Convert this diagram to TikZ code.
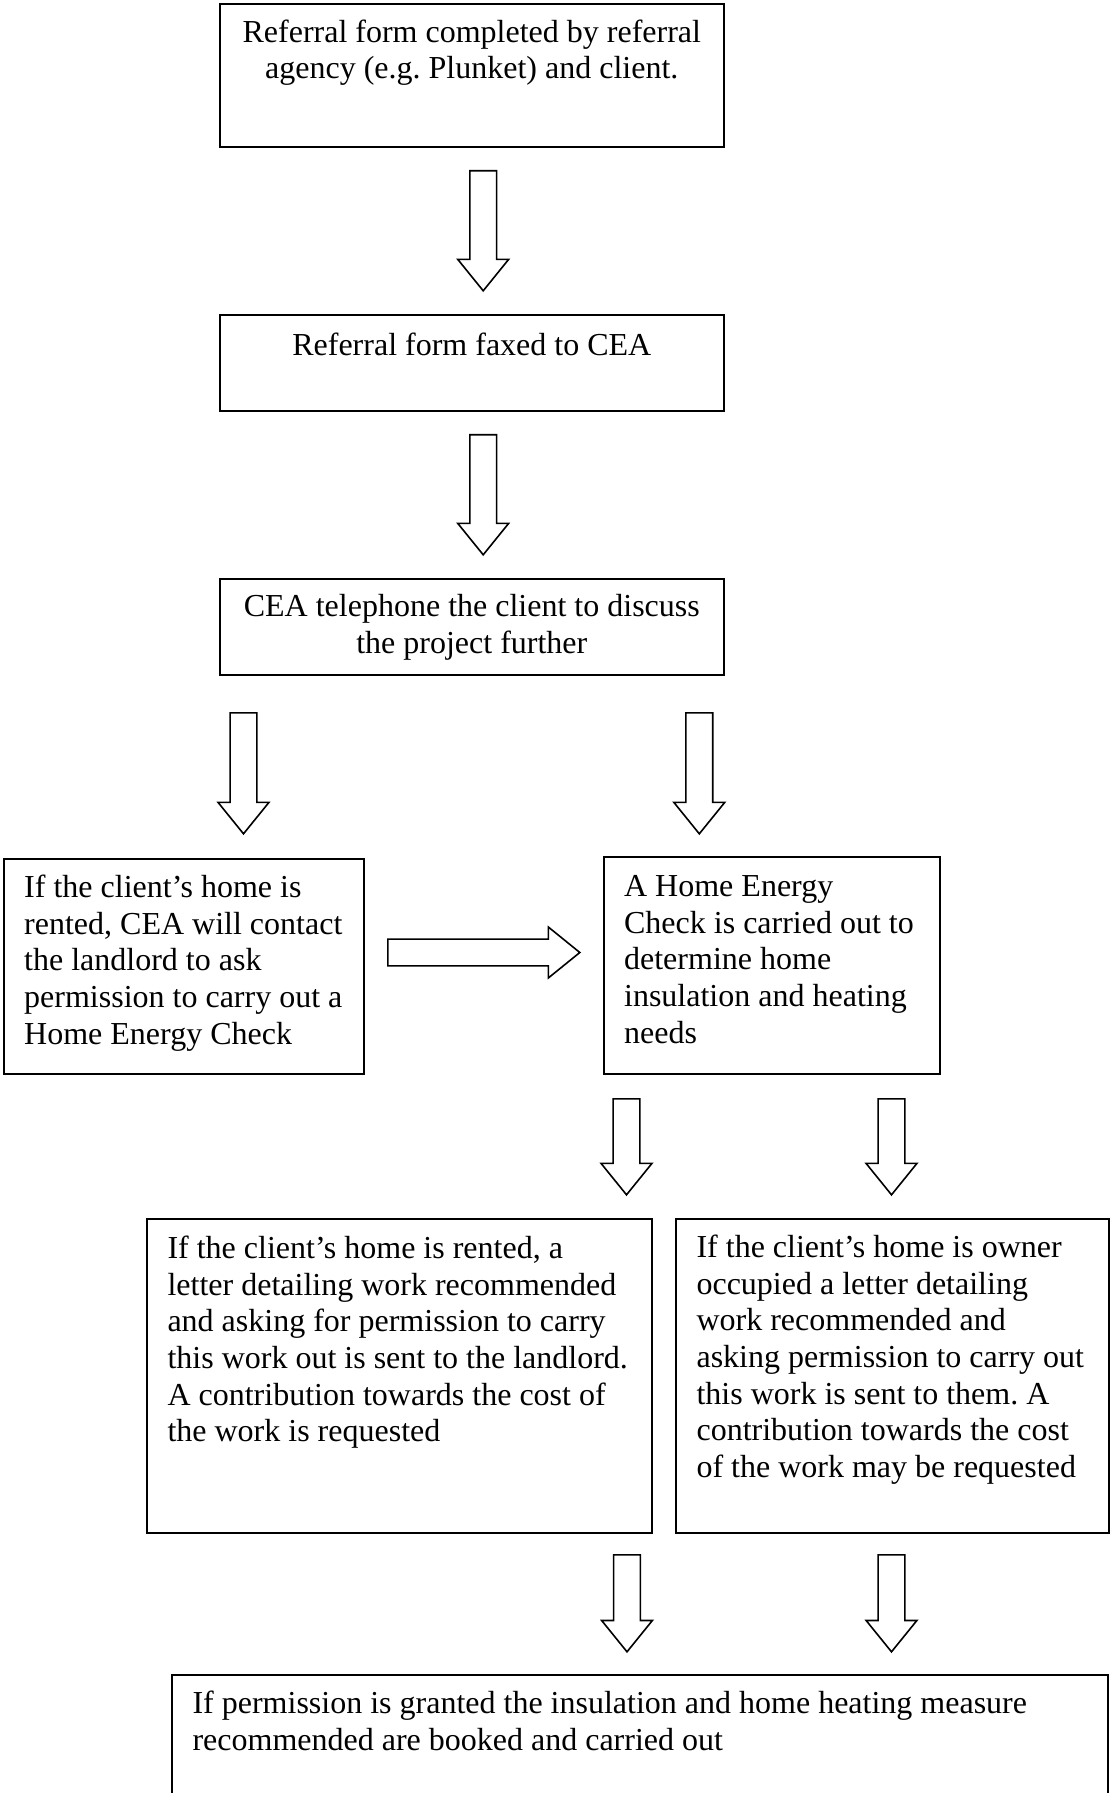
\documentclass[tikz,border=0pt]{standalone}
\usepackage{fontspec}
\setmainfont{Liberation Serif}
\usepackage{tikz}
\usetikzlibrary{calc}
\usetikzlibrary{shapes.arrows}
\newcommand\pxu{0.375pt}

\begin{document}
\frenchspacing
\begin{tikzpicture}[x=\pxu, y=-\pxu,
  box/.style 2 args={draw, line width=0.75pt, inner sep=0pt, anchor=north west, minimum width=#1*\pxu, minimum height=#2*\pxu},
  txt/.style={inner sep=0pt, align=left, anchor=north west, font=\fontsize{12}{13.75}\selectfont},
  ctxt/.style={txt, align=center, anchor=north},
  blk/.style={single arrow, draw, line width=0.6pt, inner sep=0pt, inner ysep=12.6*\pxu, single arrow head extend=12*\pxu, single arrow tip angle=78, anchor=tail, minimum height=#1*\pxu},
  down/.style={blk=#1, rotate=-90}]
  \useasboundingbox (0,0) rectangle (1109,1793);

  \node[box={504.4}{143}] (refer) at (218.6,2.7) {};
  \node[box={504.4}{96}] (fax) at (218.6,314) {};
  \node[box={504.4}{96}] (phone) at (218.6,578) {};
  \node[box={360.3}{215}] (rented) at (2.7,858) {};
  \node[box={336.4}{217}] (check) at (602.6,856) {};
  \node[box={505}{314}] (letterL) at (146,1218) {};
  \node[box={433}{314}] (letterO) at (675,1218) {};
  \node[box={936}{150}] (measure) at (171,1674) {};

  % first line baseline sits 39px under the box top (\strut is 25.7px high)
  \node[ctxt] (refer-t) at ([shift={(0,13.3)}]refer.north) {\strut Referral form completed by referral\\agency (e.g. Plunket) and client.};
  \node[ctxt] (fax-t) at ([shift={(0,15.3)}]fax.north) {\strut Referral form faxed to CEA};
  \node[ctxt] (phone-t) at ([shift={(0,12.3)}]phone.north) {\strut CEA telephone the client to discuss\\the project further};
  \node[txt] (rented-t) at ([shift={(21,13.3)}]rented.north west) {\strut If the client’s home is\\rented, CEA will contact\\the landlord to ask\\permission to carry out a\\Home Energy Check};
  \node[txt] (check-t) at ([shift={(21,14.3)}]check.north west) {\strut A Home Energy\\Check is carried out to\\determine home\\insulation and heating\\needs};
  \node[txt] (letterL-t) at ([shift={(21,14.3)}]letterL.north west) {\strut If the client’s home is rented, a\\letter detailing work recommended\\and asking for permission to carry\\this work out is sent to the landlord.\\A contribution towards the cost of\\the work is requested};
  \node[txt] (letterO-t) at ([shift={(21,13.3)}]letterO.north west) {\strut If the client’s home is owner\\occupied a letter detailing\\work recommended and\\asking permission to carry out\\this work is sent to them. A\\contribution towards the cost\\of the work may be requested};
  \node[txt] (measure-t) at ([shift={(21,13.3)}]measure.north west) {\strut If permission is granted the insulation and home heating measure\\recommended are booked and carried out};

  \node[down=120] (a1) at (483.2,170) {};
  \node[down=120] (a2) at (483.2,434) {};
  \node[down=121] (a3) at (243.5,712) {};
  \node[down=121] (a4) at (699.3,712) {};
  \node[blk=192] (a5) at (387,952.5) {};
  \node[down=96] (a6) at (626.5,1098) {};
  \node[down=96] (a7) at (891.5,1098) {};
  \node[down=97] (a8) at (627,1554) {};
  \node[down=97] (a9) at (891.5,1554) {};
\end{tikzpicture}
\end{document}
